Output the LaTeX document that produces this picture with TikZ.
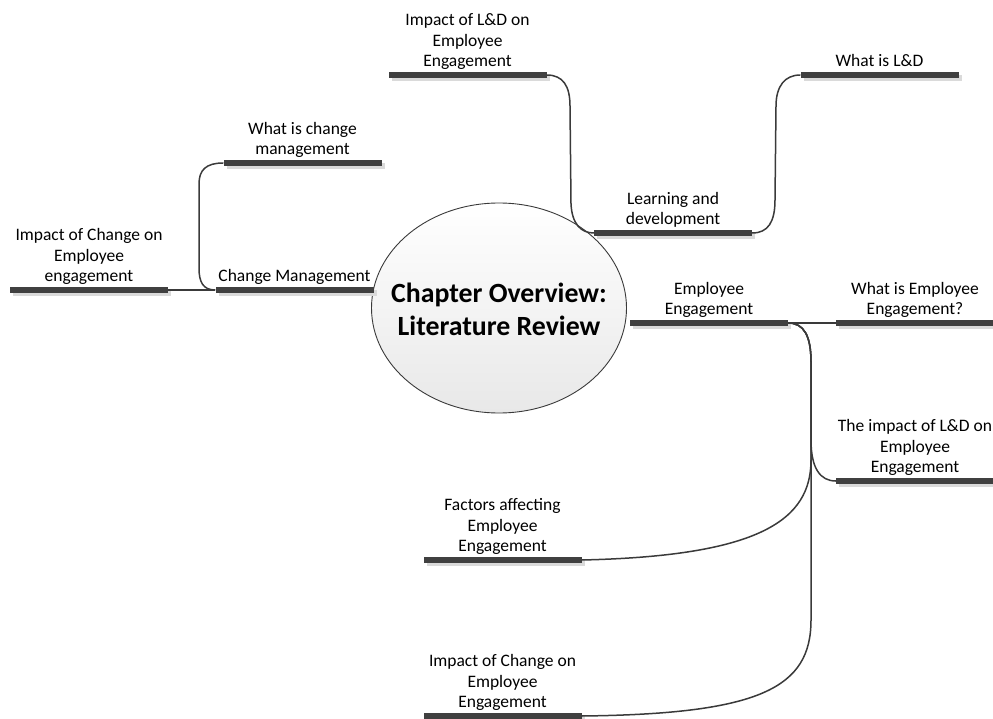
\documentclass[tikz,border=0pt]{standalone}
\usepackage{fontspec}
\setmainfont{Carlito}
\usetikzlibrary{shapes.geometric,shadows}
\definecolor{barcol}{HTML}{404040}
\definecolor{shadowcol}{HTML}{DADADA}
\definecolor{edgecol}{HTML}{3A3A3A}
\begin{document}
\begin{tikzpicture}[x=1pt,y=-1pt,
  topicbar/.style={rectangle, inner sep=0pt, minimum width=158pt, minimum height=5.5pt,
    fill=barcol, drop shadow={shadow xshift=3pt, shadow yshift=-3pt, fill=shadowcol, opacity=1}},
  lbl/.style={font=\fontsize{17.5}{20.5}\selectfont, align=center, anchor=south,
    inner sep=0pt, yshift=-1pt},
  conn/.style={draw=edgecol, line width=1.5pt},
  thinconn/.style={draw=edgecol, line width=1.1pt},
  core/.style={ellipse, draw=edgecol, line width=0.9pt, minimum width=255pt,
    minimum height=210pt, top color=white, bottom color=black!9}]
\useasboundingbox (0,0) rectangle (993,719);

% central topic
\node[core] (hub) at (499,308) {};
\node[font=\fontsize{27.8}{33}\selectfont\bfseries, align=center, inner sep=0pt]
  (hubtext) at (499,309) {Chapter Overview:\\Literature Review};

% topic bars
\node[topicbar] (ldimp)  at (467.5,75) {};
\node[topicbar] (ldwhat) at (879.5,75) {};
\node[topicbar] (ld)     at (673,233) {};
\node[topicbar] (cmwhat) at (302.5,163) {};
\node[topicbar] (cm)     at (294.5,290) {};
\node[topicbar] (cmimp)  at (89,290) {};
\node[topicbar] (ee)     at (709,323) {};
\node[topicbar] (eewhat) at (915,323) {};
\node[topicbar] (eeld)   at (915,481) {};
\node[topicbar] (eefac)  at (502.5,560) {};
\node[topicbar] (eecm)   at (502.5,716) {};

% topic labels
\node[lbl] (ldimp-t)  at (ldimp.north)  {Impact of L\&D on\\Employee\\Engagement\strut};
\node[lbl] (ldwhat-t) at (ldwhat.north) {What is L\&D\strut};
\node[lbl] (ld-t)     at (ld.north)     {Learning and\\development\strut};
\node[lbl] (cmwhat-t) at (cmwhat.north) {What is change\\management\strut};
\node[lbl] (cm-t)     at (cm.north)     {Change Management\strut};
\node[lbl] (cmimp-t)  at (cmimp.north)  {Impact of Change on\\Employee\\engagement\strut};
\node[lbl] (ee-t)     at (ee.north)     {Employee\\Engagement\strut};
\node[lbl] (eewhat-t) at (eewhat.north) {What is Employee\\Engagement?\strut};
\node[lbl] (eeld-t)   at (eeld.north)   {The impact of L\&D on\\Employee\\Engagement\strut};
\node[lbl] (eefac-t)  at (eefac.north)  {Factors affecting\\Employee\\Engagement\strut};
\node[lbl] (eecm-t)   at (eecm.north)   {Impact of Change on\\Employee\\Engagement\strut};

% change management branch
\draw[thinconn] (cmimp.east) -- (cm.west);
\draw[conn] (cm.west) .. controls (203,290) and (199,282) .. (199,268)
  -- (199,184) .. controls (199,170) and (206,163) .. (cmwhat.west);

% learning and development branch
\draw[conn] (ldimp.east) .. controls (563,75) and (570,86) .. (570,106)
  -- (571,204) .. controls (572,224) and (581,233) .. (ld.west);
\draw[conn] (ld.east) .. controls (768,233) and (775,222) .. (775,200)
  -- (776,106) .. controls (776,86) and (785,75) .. (ldwhat.west);

% employee engagement branch
\draw[thinconn] (ee.east) -- (eewhat.west);
\draw[conn] (ee.east) .. controls (804,323) and (811,336) .. (811,362)
  -- (811,440) .. controls (811,468) and (820,481) .. (eeld.west);
\draw[conn] (ee.east) .. controls (804,323) and (811,336) .. (811,362)
  -- (811,460) .. controls (811,520) and (760,556) .. (eefac.east);
\draw[conn] (ee.east) .. controls (804,323) and (811,336) .. (811,362)
  -- (811,620) .. controls (811,688) and (760,714) .. (eecm.east);
\end{tikzpicture}
\end{document}
